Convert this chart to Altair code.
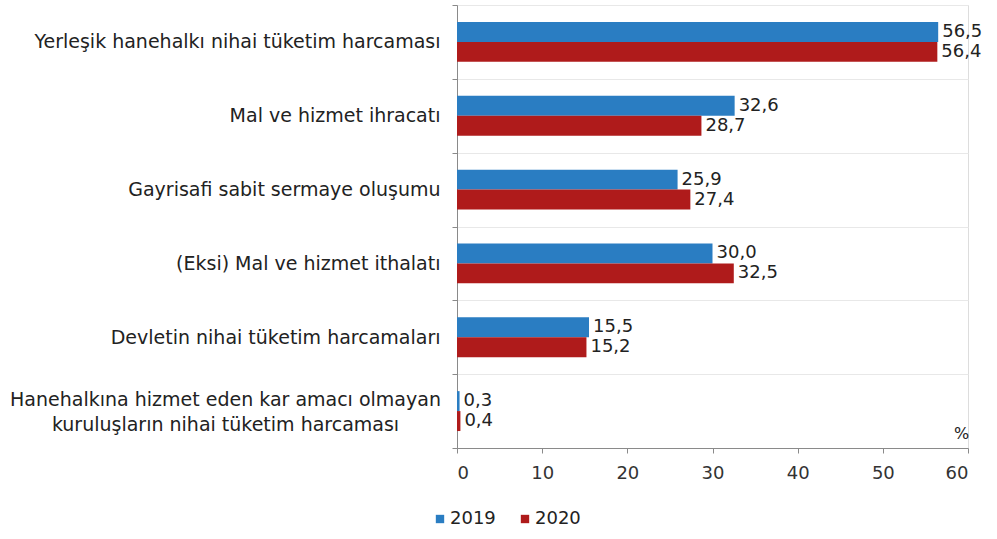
import json
import altair as alt
import pandas as pd

categories = [
    "Yerleşik hanehalkı  nihai tüketim harcaması",
    "Mal ve hizmet ihracatı",
    "Gayrisafi sabit sermaye oluşumu",
    "(Eksi) Mal ve hizmet ithalatı",
    "Devletin nihai tüketim harcamaları",
    "Hanehalkına hizmet eden kar amacı olmayan kuruluşların nihai tüketim harcaması",
]
long_label_lines = ["Hanehalkına hizmet eden kar amacı olmayan", "kuruluşların nihai tüketim harcaması"]
years = ["2019", "2020"]
values_2019 = [56.5, 32.6, 25.9, 30.0, 15.5, 0.3]
values_2020 = [56.4, 28.7, 27.4, 32.5, 15.2, 0.4]
x_ticks = [0, 10, 20, 30, 40, 50, 60]
colors = ["#2A7DC2", "#AF1B1B"]

rows = []
for c, a, b in zip(categories, values_2019, values_2020):
    rows.append({"cat": c, "year": years[0], "value": a})
    rows.append({"cat": c, "year": years[1], "value": b})
df = pd.DataFrame(rows)

FONT = "DejaVu Sans"
long_cat = json.dumps(categories[-1], ensure_ascii=False)
test = f"datum.value == {long_cat}"
label_expr = f"{test} ? {json.dumps(long_label_lines, ensure_ascii=False)} : datum.value"

y_axis = alt.Axis(
    title=None,
    tickBand="extent",
    domainColor="#8a8a8a",
    tickColor="#8a8a8a",
    tickSize=5,
    grid=True,
    gridColor="#e8e8e8",
    labelFont=FONT,
    labelFontSize=19,
    labelColor="#222222",
    labelLimit=600,
    labelLineHeight=25,
    labelExpr=label_expr,
    labelAlign={"condition": {"test": test, "value": "center"}, "value": "right"},
    labelPadding={"condition": {"test": test, "value": 227}, "value": 12},
    labelOffset={"condition": {"test": test, "value": -12}, "value": 0},
)

x_axis = alt.Axis(
    values=x_ticks,
    grid=False,
    domainColor="#8a8a8a",
    tickColor="#8a8a8a",
    tickSize=5,
    labelFont=FONT,
    labelFontSize=18,
    labelColor="#333333",
    labelPadding=11,
    title="%",
    titleFont=FONT,
    titleFontSize=16,
    titleFontWeight="normal",
    titleColor="#222222",
    titleX=504,
    titleY=-15,
    titleAlign="center",
    titleBaseline="middle",
)

base = alt.Chart(df).encode(
    y=alt.Y("cat:N", sort=categories, scale=alt.Scale(paddingInner=0, paddingOuter=0), axis=y_axis),
    yOffset=alt.YOffset("year:N", sort=years, scale=alt.Scale(paddingInner=0, paddingOuter=0.85)),
    x=alt.X("value:Q", scale=alt.Scale(domain=[0, 60], nice=False), axis=x_axis),
)

bars = base.mark_bar().encode(
    color=alt.Color(
        "year:N",
        scale=alt.Scale(domain=years, range=colors),
        legend=alt.Legend(
            title=None,
            orient="none",
            legendX=-26,
            legendY=505,
            direction="horizontal",
            symbolType="square",
            symbolSize=70,
            symbolStrokeWidth=0,
            labelFont=FONT,
            labelFontSize=18,
            labelColor="#222222",
            labelOffset=1,
            columnPadding=20,
            padding=0,
        ),
    )
)

labels = base.transform_calculate(
    lbl="replace(format(datum.value, '.1f'), '.', ',')"
).mark_text(
    align="left", baseline="middle", dx=4, font=FONT, fontSize=18, color="#222222"
).encode(text="lbl:N")

chart = (
    alt.layer(bars, labels)
    .properties(
        width=511,
        height=443,
        padding={"left": 457, "top": 5, "right": 29, "bottom": 91},
        autosize=alt.AutoSizeParams(type="none"),
    )
    .configure_view(stroke=None)
    .configure(background="white")
)

chart.save("out.html", embed_options={"renderer": "svg", "actions": False})
